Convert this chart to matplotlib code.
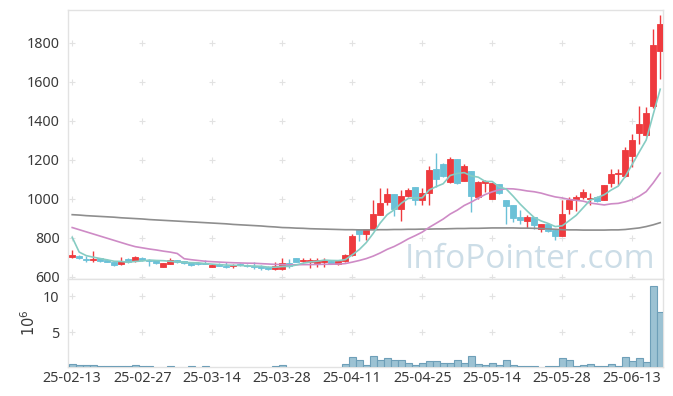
import matplotlib
matplotlib.use("Agg")
import matplotlib.pyplot as plt
import numpy as np

dates = ['25-02-13','25-02-14','25-02-17','25-02-18','25-02-19','25-02-20','25-02-21','25-02-24','25-02-25','25-02-26',
         '25-02-27','25-02-28','25-03-04','25-03-05','25-03-06','25-03-07','25-03-10','25-03-11','25-03-12','25-03-13',
         '25-03-14','25-03-17','25-03-18','25-03-19','25-03-20','25-03-21','25-03-24','25-03-25','25-03-26','25-03-27',
         '25-03-28','25-03-31','25-04-01','25-04-02','25-04-03','25-04-04','25-04-07','25-04-08','25-04-09','25-04-10',
         '25-04-11','25-04-14','25-04-15','25-04-16','25-04-17','25-04-18','25-04-21','25-04-22','25-04-23','25-04-24',
         '25-04-25','25-04-28','25-04-29','25-04-30','25-05-02','25-05-07','25-05-08','25-05-09','25-05-12','25-05-13',
         '25-05-14','25-05-15','25-05-16','25-05-19','25-05-20','25-05-21','25-05-22','25-05-23','25-05-26','25-05-27',
         '25-05-28','25-05-29','25-05-30','25-06-02','25-06-04','25-06-05','25-06-09','25-06-10','25-06-11','25-06-12',
         '25-06-13','25-06-16','25-06-17','25-06-18','25-06-19']

opens = [699.6, 708.2, 691.0, 687.5, 694.4, 685.8, 677.0, 663.5, 691.0, 680.7,
         697.8, 687.5, 684.0, 650.0, 667.0, 684.0, 679.0, 674.0, 670.0, 670.0,
         651.5, 667.0, 653.0, 653.0, 663.5, 660.0, 656.6, 653.0, 649.8, 637.7,
         637.7, 670.4, 696.0, 680.7, 674.0, 670.4, 674.0, 682.4, 665.2, 680.7,
         711.5, 845.4, 818.0, 845.4, 917.5, 982.8, 1025.7, 945.0, 1013.7, 1061.7,
         991.3, 1030.8, 1151.0, 1180.2, 1085.8, 1202.5, 1091.0, 1140.7, 1008.5, 1082.3,
         1000.0, 1077.0, 991.3, 965.6, 903.8, 883.2, 905.5, 845.4, 871.2, 840.0,
         811.0, 948.3, 994.6, 1008.4, 998.0, 1008.4, 991.2, 1080.5, 1125.0, 1116.6,
         1219.6, 1338.0, 1326.0, 1475.4, 1755.3]
highs = [737.3, 711.6, 704.7, 734.0, 697.8, 689.0, 677.0, 699.6, 694.4, 706.4,
         699.5, 691.0, 686.0, 670.4, 698.0, 687.5, 681.0, 677.0, 677.0, 686.0,
         665.2, 670.4, 673.8, 667.0, 670.4, 663.5, 673.8, 660.0, 653.0, 677.0,
         697.8, 691.0, 697.8, 698.0, 698.0, 698.0, 698.0, 684.0, 687.5, 715.0,
         819.6, 845.4, 845.4, 991.4, 1056.6, 1056.6, 1025.7, 1042.8, 1056.6, 1061.7,
         1054.9, 1170.0, 1236.9, 1185.0, 1214.6, 1202.5, 1180.2, 1140.7, 1089.2, 1097.8,
         1080.6, 1077.0, 991.3, 965.6, 939.8, 914.1, 905.5, 871.2, 876.0, 845.0,
         991.2, 1008.4, 1017.0, 1051.3, 1029.0, 1011.8, 1068.5, 1154.4, 1154.4, 1266.0,
         1331.0, 1477.0, 1468.5, 1870.0, 1944.0]
lows = [694.4, 691.0, 677.0, 677.0, 677.0, 674.0, 653.0, 660.0, 670.0, 677.0,
        679.0, 656.0, 667.0, 648.0, 665.0, 670.4, 667.0, 653.0, 661.0, 663.5,
        648.0, 653.0, 646.3, 644.6, 653.0, 649.8, 639.5, 636.0, 634.3, 632.6,
        634.3, 646.3, 673.8, 677.0, 644.6, 651.5, 649.8, 663.5, 661.8, 677.0,
        708.0, 785.3, 790.5, 842.0, 914.0, 965.6, 909.0, 883.2, 1006.8, 969.0,
        965.6, 965.6, 1060.0, 1110.0, 1082.3, 1077.0, 1091.0, 931.0, 1000.0, 1034.3,
        996.0, 1025.6, 871.0, 879.7, 871.0, 848.8, 845.4, 831.6, 831.6, 788.6,
        811.0, 922.5, 936.0, 1000.0, 965.5, 982.6, 991.2, 1060.0, 1068.5, 1111.5,
        1163.0, 1283.0, 1321.0, 1463.0, 1612.8]
closes = [709.9, 694.4, 687.5, 692.7, 680.7, 675.5, 658.4, 682.4, 674.0, 699.6,
          687.5, 682.4, 672.0, 668.7, 684.0, 675.5, 668.7, 662.0, 665.0, 663.5,
          661.8, 656.6, 649.8, 660.0, 658.3, 653.0, 651.5, 642.9, 637.7, 656.6,
          670.4, 656.6, 677.0, 685.8, 687.5, 687.5, 687.5, 667.0, 682.4, 711.6,
          811.0, 821.4, 845.4, 919.0, 979.3, 1025.7, 945.0, 1013.7, 1042.8, 991.3,
          1030.8, 1145.9, 1099.5, 1116.7, 1202.5, 1082.3, 1168.2, 1013.7, 1085.8, 1092.6,
          1080.6, 1029.0, 960.4, 900.3, 890.0, 903.8, 862.6, 871.2, 836.8, 811.0,
          922.5, 994.6, 1008.4, 1032.4, 1005.0, 987.8, 1068.5, 1128.6, 1132.0, 1252.2,
          1300.3, 1382.7, 1437.6, 1789.6, 1897.8]

# moving-average lines
ma_short = [802, 726, 708, 700, 693.0, 686.2, 679.0, 678.0, 674.2, 678.0,
            680.4, 685.2, 683.1, 682.0, 678.9, 676.5, 673.8, 671.8, 671.0, 666.9,
            664.2, 661.8, 659.3, 658.3, 657.3, 655.5, 654.5, 653.1, 648.7, 648.3,
            651.8, 652.8, 659.7, 669.3, 675.5, 678.9, 685.1, 683.1, 682.4, 687.2,
            711.9, 738.7, 774.4, 821.7, 875.2, 918.2, 942.9, 976.5, 1001.3, 1003.7,
            1004.7, 1044.9, 1062.1, 1076.8, 1119.1, 1129.4, 1133.8, 1116.7, 1110.5, 1088.5,
            1088.2, 1060.3, 1049.7, 1012.6, 972.1, 936.7, 903.4, 885.6, 872.9, 857.1,
            860.8, 887.2, 914.7, 953.8, 992.6, 1005.6, 1020.4, 1044.5, 1064.4, 1113.8,
            1176.3, 1239.2, 1301.0, 1432.5, 1561.6]
ma_mid = [852, 841, 830, 819, 808, 797, 786, 775, 764, 754,
          748, 742, 737, 731, 726, 719, 692, 687, 683, 679.2,
          676.8, 674.9, 673.0, 671.4, 670.3, 669.2, 668.8, 666.8, 665.0, 662.9,
          662.0, 660.7, 661.0, 661.8, 662.0, 662.6, 663.6, 663.8, 664.7, 667.1,
          674.5, 682.8, 692.6, 705.5, 721.6, 740.2, 754.9, 773.4, 793.7, 810.4,
          828.4, 852.9, 874.0, 895.6, 921.3, 941.0, 965.1, 982.4, 1002.6, 1021.6,
          1035.1, 1045.5, 1051.2, 1050.3, 1045.8, 1039.7, 1035.6, 1028.5, 1018.2, 1009.2,
          1003.8, 996.2, 991.7, 987.4, 977.6, 972.8, 967.9, 973.6, 975.9, 983.9,
          994.9, 1012.6, 1036.4, 1080.9, 1131.3]
ma_long = [918, 916, 913, 911, 909, 907, 905, 902, 900, 898,
           896, 893, 891, 889, 887, 885, 883, 881, 879, 877,
           875, 873, 871, 868, 866, 864, 862, 860, 857, 855,
           852, 851, 849, 848, 846, 845, 844, 843, 842, 841,
           841, 840, 840, 840, 841, 841, 842, 842, 843, 843,
           844, 844, 845, 845, 846, 847, 847, 848, 848, 849,
           850, 850, 850, 850, 849, 849, 848, 847, 845, 843,
           841, 840, 840, 839, 839, 839, 839, 840, 840, 842,
           846, 850, 857, 866, 877]

volumes = [0.55, 0.41, 0.41, 0.41, 0.27, 0.27, 0.27, 0.27, 0.27, 0.41,
           0.27, 0.27, 0.10, 0.10, 0.27, 0.10, 0.10, 0.27, 0.10, 0.27,
           0.10, 0.10, 0.10, 0.10, 0.10, 0.10, 0.10, 0.10, 0.10, 0.27,
           0.41, 0.10, 0.10, 0.10, 0.10, 0.10, 0.10, 0.10, 0.10, 0.55,
           1.53, 1.10, 0.42, 1.67, 1.10, 1.39, 1.10, 1.10, 0.69, 0.42,
           0.69, 0.97, 0.97, 0.69, 0.69, 1.10, 0.69, 1.67, 0.55, 0.42,
           0.69, 0.42, 1.10, 0.42, 0.28, 0.28, 0.28, 0.10, 0.28, 0.28,
           1.39, 1.10, 0.28, 0.42, 0.55, 0.28, 0.28, 0.55, 0.28, 1.53,
           0.97, 1.39, 0.83, 11.39, 7.78]

price_ticks = [600, 800, 1000, 1200, 1400, 1600, 1800]
vol_ticks = [5, 10]

plt.rcParams['font.family'] = ['Noto Sans', 'DejaVu Sans']

W, H = 673, 396
fig = plt.figure(figsize=(W / 100, H / 100), dpi=100)
fig.patch.set_facecolor('white')

L, R = 68 / W, 663 / W
ax = fig.add_axes([L, 1 - 279 / H, R - L, (279 - 10) / H])
axv = fig.add_axes([L, 1 - 367 / H, R - L, (367 - 279) / H], sharex=ax)

x = np.arange(len(dates))
o = np.array(opens); c = np.array(closes); h = np.array(highs); lo = np.array(lows)
up = c >= o
red = '#EE3A3E'
blue = '#6BC1D7'
cols = np.where(up, red, blue)

# watermark
fig.text(655 / W, 1 - 268 / H, 'InfoPointer.com', ha='right', va='baseline',
         fontsize=24, color='#CCDDE7', family='Open Sans', zorder=0)

ax.vlines(x, lo, h, colors=cols, linewidth=1.0, zorder=3)
ax.bar(x, np.abs(c - o), bottom=np.minimum(o, c), width=0.8, color=cols,
       edgecolor=cols, linewidth=0.6, zorder=4)

ax.plot(x, ma_long, color='#8E8E8E', lw=1.2, zorder=5)
ax.plot(x, ma_mid, color='#CE8BC6', lw=1.2, zorder=5)
ax.plot(x, ma_short, color='#86CCC3', lw=1.2, zorder=6)

axv.bar(x, volumes, width=1.0, color='#9CC2D3', edgecolor='#6E9FB8', linewidth=0.8, zorder=3)

xticks = list(range(0, len(dates), 10))
for a in (ax, axv):
    a.set_xlim(-0.6, 84.4)
    for s in a.spines.values():
        s.set_color('#E2E2E2')
        s.set_linewidth(1.0)
    a.tick_params(length=0, labelsize=10.3, colors='#3A3A3A', pad=6)
    a.set_facecolor('white')

ax.set_ylim(588, 1968)
ax.set_yticks(price_ticks)
ax.tick_params(labelbottom=False)
axv.set_ylim(0.18, 12.4)
axv.set_yticks(vol_ticks)
axv.set_xticks(xticks)
axv.set_xticklabels([dates[i] for i in xticks])
axv.tick_params(axis='x', pad=3)
axv.set_ylabel(r'$10^6$', fontsize=10.5, color='#3A3A3A', labelpad=3)

# grid crosses at tick intersections
gx, gy = np.meshgrid(xticks, price_ticks)
ax.scatter(gx.ravel(), gy.ravel(), marker='+', s=14, color='#E2E2E2', linewidths=0.8, zorder=1)
gx, gy = np.meshgrid(xticks, vol_ticks)
axv.scatter(gx.ravel(), gy.ravel(), marker='+', s=14, color='#E2E2E2', linewidths=0.8, zorder=1)

fig.savefig('out.png', dpi=100, facecolor='white')
